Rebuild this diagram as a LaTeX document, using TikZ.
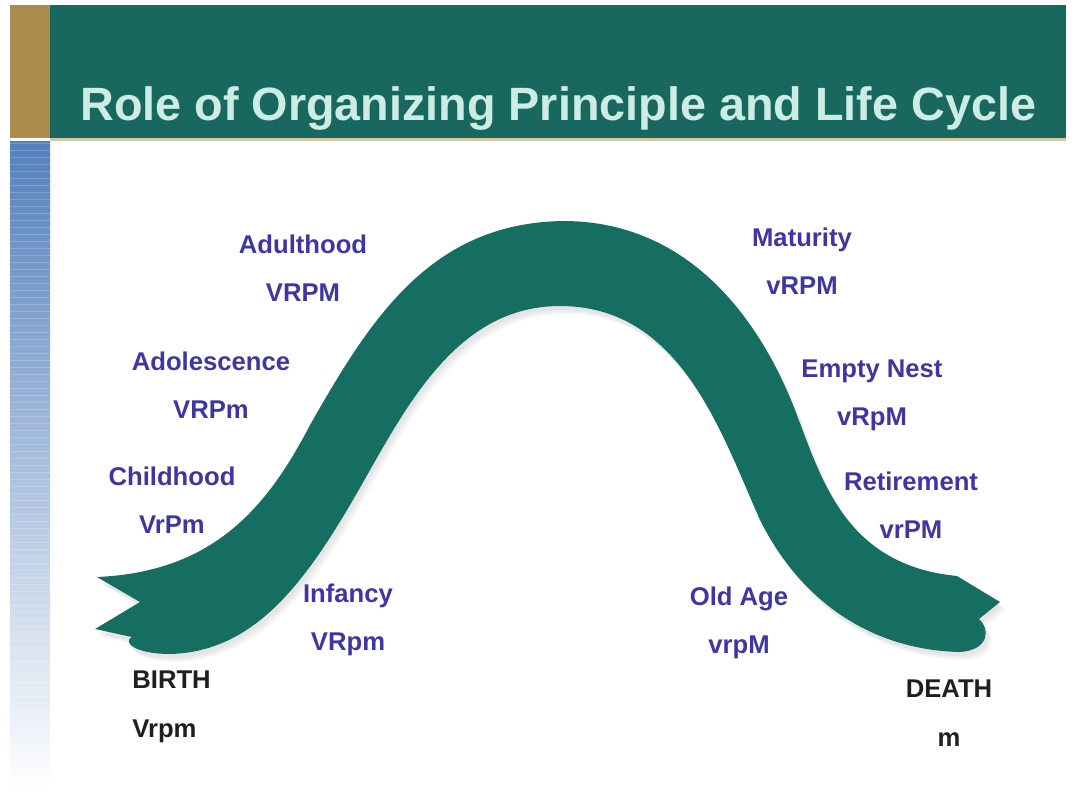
\documentclass[tikz,border=0pt]{standalone}
\usepackage{fontspec}
\setmainfont{Liberation Sans}
\definecolor{headteal}{RGB}{25,104,95}
\definecolor{bandteal}{RGB}{22,110,98}
\definecolor{gold}{RGB}{172,140,78}
\definecolor{mint}{RGB}{205,236,228}
\definecolor{stageblue}{RGB}{62,54,165}
\definecolor{stripeblue}{RGB}{84,128,188}
\tikzset{
  titletext/.style={text=mint, font=\fontsize{26.6}{30}\selectfont\bfseries, inner sep=0pt},
  stagetext/.style={text=stageblue, font=\fontsize{14.6}{17}\selectfont\bfseries, inner sep=0pt, anchor=base},
  endtext/.style={text=black!88, font=\fontsize{14.6}{17}\selectfont\bfseries, inner sep=0pt},
}
\begin{document}
\begin{tikzpicture}[x=0.02cm, y=-0.02cm]
 \useasboundingbox (0,0) rectangle (1075,792);

 %header
 \fill[headteal] (50,5) rectangle (1066,138);
 \fill[gold] (10,5) rectangle (50,138);
 \fill[gold!50] (50,138) rectangle (1066,141);
 \node[titletext, anchor=base west] (title) at (80,120) {Role of Organizing Principle and Life Cycle};

 %left stripe
 \shade[top color=stripeblue, bottom color=white] (10,141) rectangle (50,790);
 \foreach \k in {0,...,88} {
   \draw[white, opacity=0.2, line width=0.4pt] (10,143+7*\k) -- (50,143+7*\k);
 }

 %band
 \def\bandpath{(97,577) .. controls (210,572) and (265,512) .. (310,425)
   .. controls (370,320) and (430,222) .. (565,221)
   .. controls (690,222) and (760,320) .. (795,410)
   .. controls (822,480) and (845,565) .. (957,576)
   -- (1000,602) -- (979,619) .. controls (990,628) and (990,650) .. (960,652)
   .. controls (870,650) and (800,600) .. (760,520)
   .. controls (720,430) and (680,306) .. (560,306)
   .. controls (450,306) and (400,420) .. (350,505)
   .. controls (300,590) and (250,652) .. (170,654)
   .. controls (135,654) and (122,642) .. (132,637) -- (95,629) -- (140,602) -- cycle}
 \foreach \s in {2,4,6} {
   \fill[black, opacity=0.035, shift={(\s,\s+2)}] \bandpath;
 }
 \fill[bandteal] \bandpath;

 %stages
 \foreach \x/\y/\stage/\code [count=\k] in {
     303/253/Adulthood/VRPM, 211/370/Adolescence/VRPm, 172/485/Childhood/VrPm,
     348/602/Infancy/VRpm, 802/246/Maturity/vRPM, 872/377/Empty Nest/vRpM,
     911/490/Retirement/vrPM, 739/605/Old Age/vrpM} {
   \node[stagetext] (stage\k) at (\x,\y) {\stage};
   \node[stagetext] (code\k) at (\x,{\y+48}) {\code};
 }

 %ends
 \node[endtext, anchor=base west] (birth) at (132,688) {BIRTH};
 \node[endtext, anchor=base west] (birthcode) at (132,737) {Vrpm};
 \node[endtext, anchor=base] (death) at (949,697) {DEATH};
 \node[endtext, anchor=base] (deathcode) at (949,746) {m};

\end{tikzpicture}
\end{document}
